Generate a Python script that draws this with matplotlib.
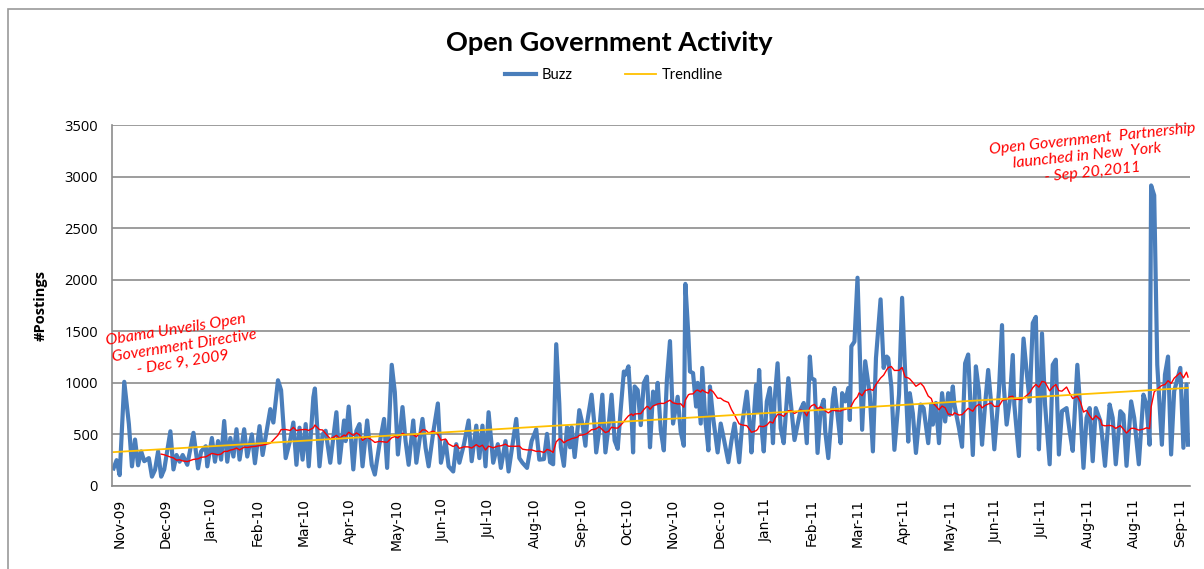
import numpy as np
import pandas as pd
import matplotlib
matplotlib.use("Agg")
import matplotlib.pyplot as plt
from matplotlib.patches import Rectangle

# buzz: (day since 2009-11-01, postings)
days = [0, 2, 4, 7, 10, 12, 14, 16, 18, 20, 23, 25, 27, 29, 31, 33, 37, 39, 41, 43,
        45, 48, 52, 55, 57, 60, 61, 64, 66, 68, 70, 72, 74, 76, 78, 80, 82, 85, 87, 90,
        92, 95, 97, 102, 104, 107, 109, 112, 115, 117, 119, 121, 123, 125, 127, 130, 131, 134, 136,
        138, 141, 143, 145, 147, 150, 151, 153, 156, 158, 160, 162, 165, 168, 170, 173, 176, 178,
        181, 183, 185, 188, 190, 192, 195, 197, 201, 203, 205, 208, 211, 213, 216, 218, 221, 223,
        225, 228, 231, 233, 236, 238, 240, 242, 244, 247, 250, 252, 255, 257, 262, 264, 266, 269,
        272, 275, 277,
        280, 282, 284, 286, 288, 290, 291, 293, 295, 297, 298, 300, 302, 303, 305, 307, 308, 311,
        313, 314, 316, 318, 320, 322, 324, 326, 328, 330, 332, 333, 335, 337, 338, 339, 341, 343,
        345, 347, 348, 349, 351, 353, 354, 356, 358, 360, 362, 364, 367, 369, 371, 372, 374, 375,
        377, 379, 380, 382, 383, 385, 387, 388, 390, 393, 395, 397, 400, 402, 404, 407, 409, 412,
        414, 415,
        418, 419, 420, 422, 423, 425, 427, 429, 430, 432, 434, 436, 439, 441, 443, 447, 449, 451,
        453, 454, 456, 458, 460, 462, 463, 465, 468, 469, 471, 473, 474, 476, 478, 479, 480, 482,
        484, 485, 487, 489, 492, 494, 496, 499, 501, 503, 504, 506, 508, 511, 513, 515, 517, 518,
        520, 522, 525, 527, 530, 532, 533, 535, 537, 539, 541, 543, 544, 546, 547, 550, 552, 554,
        556, 559,
        561, 563, 564, 565, 567, 569, 571, 573, 576, 578, 579, 581, 583, 585, 586, 589, 590, 592,
        594, 596, 598, 600, 602, 603, 604, 606, 609, 611, 613, 615, 617, 620, 622, 624, 627, 629,
        631, 633, 635, 637, 639, 642, 643, 645, 648, 650, 652, 655, 657, 659, 662, 664, 667, 670,
        672, 674, 675, 677, 679, 682, 684, 686, 688, 690, 694, 696, 698, 699]
buzz = [170, 250, 105, 1010, 600, 190, 450, 200, 335, 240, 270, 90, 155, 335, 90, 160, 530, 160, 300, 235,
        300, 205, 515, 170, 335, 385, 190, 465, 235, 435, 255, 630, 235, 465, 285, 550, 255, 550, 285, 500,
        220, 580, 300, 745, 615, 1025, 930, 270, 450, 615, 205, 565, 255, 600, 190, 860, 945, 190, 500,
        535, 225, 470, 715, 225, 635, 435, 770, 160, 535, 600, 190, 635, 205, 110, 405, 650, 175,
        1175, 910, 305, 765, 435, 205, 635, 225, 650, 370, 190, 520, 800, 225, 435, 190, 140, 405,
        225, 405, 635, 240, 585, 270, 585, 190, 715, 225, 405, 175, 435, 140, 650, 270, 225, 175,
        435, 550, 255,
        260, 505, 230, 210, 1375, 800, 375, 195, 570, 375, 570, 280, 570, 735, 605, 390, 605, 885,
        570, 325, 540, 885, 325, 570, 885, 440, 360, 750, 1110, 1080, 1160, 685, 325, 965, 930, 590,
        1000, 1060, 770, 375, 915, 800, 1000, 540, 345, 1030, 1405, 605, 865, 525, 390, 1960, 1455, 1110,
        1095, 770, 1000, 605, 1145, 640, 345, 965, 670, 325, 605, 460, 230, 440, 605, 230, 605, 915,
        570, 325,
        980, 720, 1125, 495, 335, 820, 950, 415, 820, 1190, 560, 415, 1045, 740, 445, 740, 805, 415,
        1255, 1045, 1030, 320, 740, 835, 530, 270, 850, 950, 690, 415, 900, 820, 950, 640, 1355, 1400,
        2020, 1530, 545, 1210, 885, 335, 1240, 1810, 1145, 1255, 1240, 965, 350, 885, 1825, 1095, 430, 900,
        705, 320, 790, 755, 415, 790, 595, 805, 415, 900, 625, 900, 690, 965, 790, 560, 380, 1190,
        1275, 300,
        1160, 920, 645, 400, 790, 1125, 790, 355, 920, 1560, 1000, 595, 820, 1270, 790, 290, 790, 1430,
        1110, 820, 1580, 1640, 355, 790, 1480, 790, 210, 1175, 1225, 305, 725, 755, 530, 340, 1175, 725,
        175, 660, 755, 240, 755, 630, 500, 195, 790, 660, 210, 725, 690, 195, 820, 660, 210, 885,
        790, 400, 2915, 2820, 1175, 400, 1080, 1255, 305, 920, 1145, 370, 985, 400]

month_labels = ["Nov-09", "Dec-09", "Jan-10", "Feb-10", "Mar-10", "Apr-10", "May-10", "Jun-10",
                "Jul-10", "Aug-10", "Sep-10", "Oct-10", "Nov-10", "Dec-10", "Jan-11", "Feb-11",
                "Mar-11", "Apr-11", "May-11", "Jun-11", "Jul-11", "Aug-11", "Aug-11", "Sep-11"]

days = np.array(days, dtype=float)
buzz = np.array(buzz, dtype=float)

# 30 day moving average (red) and linear trendline (yellow)
s = pd.Series(buzz, index=pd.Timestamp("2009-11-01") + pd.to_timedelta(days, unit="D"))
ma = s.rolling("30D").mean().values
ma[days < 30] = np.nan
m, b = np.polyfit(days, buzz, 1)
trend = m * days + b

fig = plt.figure(figsize=(12.04, 5.69), dpi=100)
fig.patches.append(Rectangle((0.007, -0.1), 1.1, 1.085, transform=fig.transFigure,
                             fill=False, edgecolor="#9a9a9a", linewidth=1.2))
ax = fig.add_axes([0.093, 0.146, 0.895, 0.634])

ax.plot(days, buzz, color="#4A7EBB", linewidth=3.0, label="Buzz", solid_joinstyle="round")
ax.plot(days, ma, color="#FF0000", linewidth=1.0)
ax.plot(days, trend, color="#FFC000", linewidth=1.3, label="Trendline")

ax.set_xlim(-1, 700)
ax.set_ylim(0, 3500)
ax.set_yticks(np.arange(0, 3501, 500))
ax.set_xticks(np.arange(len(month_labels)) * 30 + 4)
ax.set_xticklabels(month_labels, rotation=90, fontsize=10, family="DejaVu Sans")
ax.tick_params(axis="y", length=0, labelsize=10.5, pad=10)
ax.tick_params(axis="x", length=0, pad=9)
for lab in ax.get_yticklabels():
    lab.set_family("Open Sans")
ax.grid(axis="y", color="#8c8c8c", linewidth=1.2)
ax.set_axisbelow(True)
for side in ["top", "right"]:
    ax.spines[side].set_visible(False)
ax.spines["left"].set_color("#8c8c8c")
ax.spines["bottom"].set_color("#8c8c8c")
ax.spines["left"].set_linewidth(1.2)
ax.spines["bottom"].set_linewidth(1.2)

ax.set_ylabel("#Postings", fontsize=10.5, fontweight="bold", family="Open Sans", labelpad=12)

fig.text(0.506, 0.924, "Open Government Activity", ha="center", va="center",
         fontsize=19.5, fontweight="bold", family="Lato")
ax.legend(loc="center", bbox_to_anchor=(0.466, 1.138), ncol=2, frameon=False,
          handlelength=2.1, handletextpad=0.4, columnspacing=3.6,
          prop={"family": "Lato", "size": 10.5})

ax.text(0.0, 0.29, "Obama Unveils Open\n Government Directive\n       - Dec 9, 2009",
        transform=ax.transAxes, color="red", fontsize=11.5, style="italic", family="Lato",
        rotation=9, rotation_mode="anchor", ha="left", va="bottom", linespacing=1.25)
ax.text(0.818, 0.82, "Open Government  Partnership\n      launched in New  York\n              - Sep 20,2011",
        transform=ax.transAxes, color="red", fontsize=11.5, style="italic", family="Lato",
        rotation=6, rotation_mode="anchor", ha="left", va="bottom", linespacing=1.25)

fig.savefig("out.png", dpi=100)
